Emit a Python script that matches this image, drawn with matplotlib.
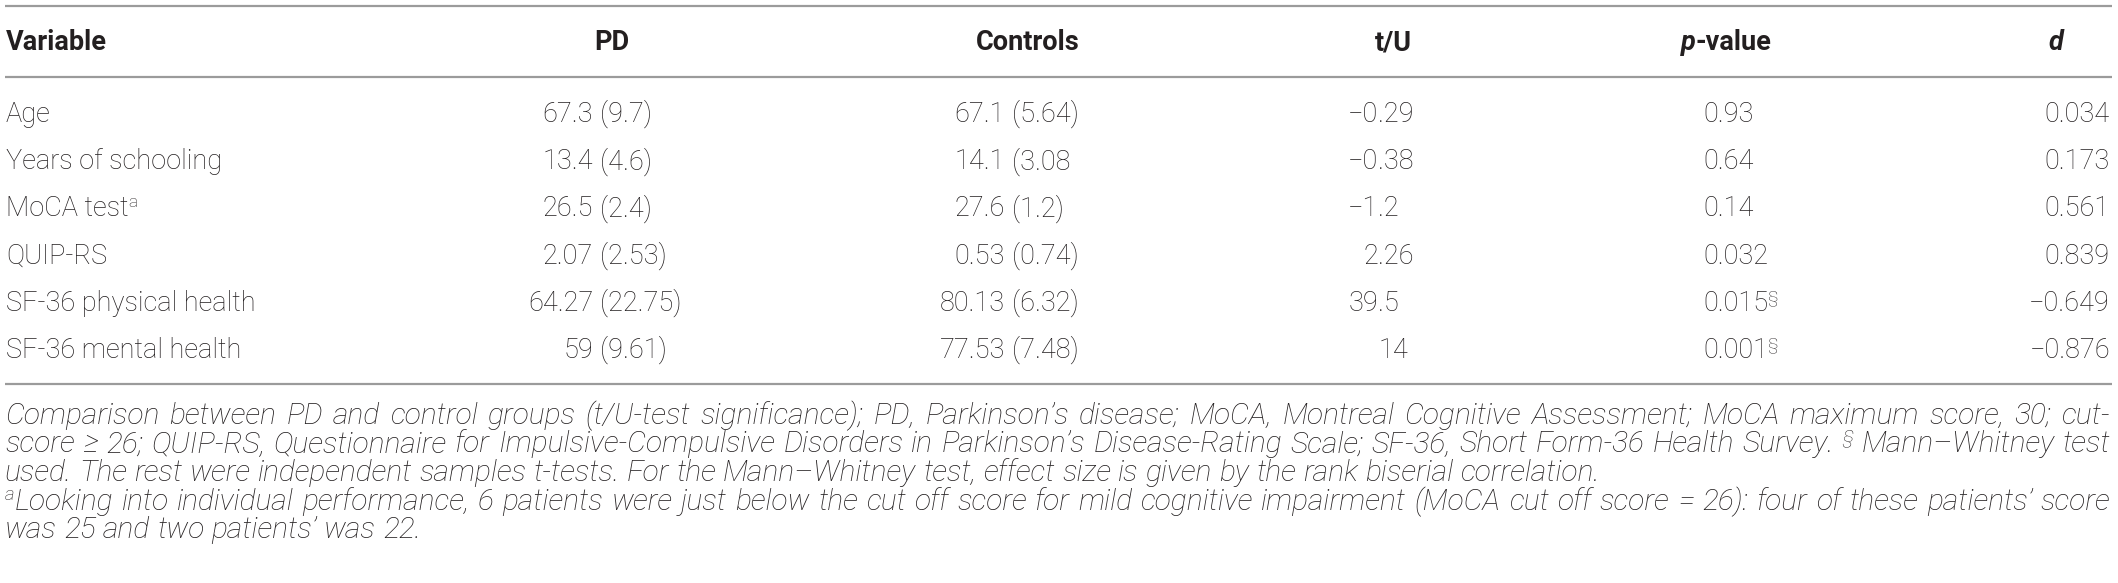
import re
import matplotlib
matplotlib.use("Agg")
import matplotlib.pyplot as plt
from matplotlib.lines import Line2D

# ---------------- data ----------------
headers = ["Variable", "PD", "Controls", "t/U", "p-value", "d"]
variables = ["Age", "Years of schooling", "MoCA test", "QUIP-RS",
             "SF-36 physical health", "SF-36 mental health"]
variable_sup = ["", "", "a", "", "", ""]
pd_values = ["67.3 (9.7)", "13.4 (4.6)", "26.5 (2.4)", "2.07 (2.53)",
             "64.27 (22.75)", "59 (9.61)"]
control_values = ["67.1 (5.64)", "14.1 (3.08", "27.6 (1.2)", "0.53 (0.74)",
                  "80.13 (6.32)", "77.53 (7.48)"]
tu_values = ["\u22120.29", "\u22120.38", "\u22121.2", "2.26", "39.5", "14"]
p_values = ["0.93", "0.64", "0.14", "0.032", "0.015", "0.001"]
p_sup = ["", "", "", "", "\u00a7", "\u00a7"]
d_values = ["0.034", "0.173", "0.561", "0.839", "\u22120.649", "\u22120.876"]

footnote_lines = [
    "Comparison between PD and control groups (t/U-test significance); PD,  Parkinson\u2019s disease; MoCA, Montreal Cognitive Assessment; MoCA maximum score, 30; cut-",
    "score \u2265 26; QUIP-RS, Questionnaire for Impulsive-Compulsive Disorders in Parkinson\u2019s Disease-Rating Scale; SF-36, Short Form-36 Health Survey. ^{\u00a7} Mann\u2013Whitney test",
    "used. The rest were independent samples t-tests. For the Mann\u2013Whitney test, effect size is given by the rank biserial correlation.",
    "^{a}Looking into individual performance, 6 patients were just below the cut off score for mild cognitive impairment (MoCA cut off score = 26): four of these patients\u2019 score",
    "was 25 and two patients\u2019 was 22.",
]
footnote_justify = [True, True, False, True, False]

# ---------------- layout ----------------
W, H = 2118, 583
fig = plt.figure(figsize=(W / 100, H / 100), dpi=100)
fig.patch.set_facecolor("white")
R = fig.canvas.get_renderer()

FAM = ["Roboto", "DejaVu Sans"]
INK = "#231f20"
FS = 19.5
BODY = dict(family=FAM, weight="light", size=FS, color=INK)
BOLD = dict(family=FAM, weight="bold", size=FS, color=INK)
BOLDIT = dict(family=FAM, weight="bold", style="italic", size=FS, color=INK)
SUP = dict(family=FAM, weight="light", size=12.5, color=INK)


def T(x, y, s, ha="left", **st):
    return fig.text(x / W, 1 - y / H, s, ha=ha, va="baseline", **st)


def wid(t):
    return t.get_window_extent(R).width


def runs_draw(x, y, runs, ha="left"):
    objs, total = [], 0.0
    for s, st, dy in runs:
        t = T(0, y + dy, s, **st)
        w = wid(t)
        objs.append((t, w, dy))
        total += w
    start = x if ha == "left" else (x - total if ha == "right" else x - total / 2)
    cx = start
    for t, w, dy in objs:
        t.set_position((cx / W, 1 - (y + dy) / H))
        cx += w
    return total


LINE_KW = dict(color="#9b9b9b", lw=1.6, solid_capstyle="butt")
for yl in (6, 77, 384):
    fig.add_artist(Line2D([5 / W, 2112 / W], [1 - yl / H] * 2, transform=fig.transFigure, **LINE_KW))

# header
hy = 50
col_center = {"PD": 612, "Controls": 1028, "t/U": 1393, "p-value": 1726, "d": 2056}
T(6, hy, headers[0], **BOLD)
T(col_center["PD"], hy, headers[1], ha="center", **BOLD)
T(col_center["Controls"], hy, headers[2], ha="center", **BOLD)
T(col_center["t/U"], hy, headers[3], ha="center", **BOLD)
runs_draw(col_center["p-value"], hy, [("p", BOLDIT, 0), ("-value", BOLD, 0)], ha="center")
T(col_center["d"], hy, headers[5], ha="center", **BOLDIT)

# body rows
row_y0, row_dy = 122, 47.2
PD_PAREN, CTRL_PAREN, TU_DEC, P_LEFT, D_RIGHT = 600, 1012, 1378, 1703, 2110

for i in range(len(variables)):
    y = row_y0 + i * row_dy
    runs = [(variables[i], BODY, 0)]
    if variable_sup[i]:
        runs.append((variable_sup[i], SUP, -9))
    runs_draw(6, y, runs)

    for vals, px in ((pd_values, PD_PAREN), (control_values, CTRL_PAREN)):
        mean, sd = vals[i].split(" (", 1)
        T(px - 7, y, mean, ha="right", **BODY)
        T(px, y, "(" + sd, ha="left", **BODY)

    v = tu_values[i]
    if "." in v:
        a, b = v.split(".", 1)
        T(TU_DEC, y, a, ha="right", **BODY)
        T(TU_DEC, y, "." + b, ha="left", **BODY)
    else:
        T(col_center["t/U"], y, v, ha="center", **BODY)

    runs = [(p_values[i], BODY, 0)]
    if p_sup[i]:
        runs.append((p_sup[i], SUP, -9))
    runs_draw(P_LEFT, y, runs)

    T(D_RIGHT, y, d_values[i], ha="right", **BODY)

# footnotes
def parse_word(word):
    out = []
    pos = 0
    for m in re.finditer(r"\^\{(.*?)\}", word):
        if m.start() > pos:
            out.append((word[pos:m.start()], False))
        out.append((m.group(1), True))
        pos = m.end()
    if pos < len(word):
        out.append((word[pos:], False))
    return out


def foot_styles(fs):
    n = dict(family=FAM, weight="light", style="italic", size=fs, color=INK)
    s = dict(family=FAM, weight="light", style="italic", size=fs * 0.62, color=INK)
    return n, s


def word_width(word, fs):
    n, s = foot_styles(fs)
    tot = 0
    for txt, sup in parse_word(word):
        t = T(0, 0, txt, **(s if sup else n))
        tot += wid(t)
        t.remove()
    return tot


def space_width(fs):
    n, _ = foot_styles(fs)
    a = T(0, 0, "x x", **n); b = T(0, 0, "xx", **n)
    w = wid(a) - wid(b)
    a.remove(); b.remove()
    return w


LEFT, RIGHT = 5, 2110
fs0 = 17.0
sp0 = space_width(fs0)
# size from the unjustified third line, which ends near x = 1600 in the reference
w3 = footnote_lines[2].split()
nat3 = sum(word_width(w, fs0) for w in w3) + (len(w3) - 1) * sp0
fs_a = fs0 * (1600 - LEFT) / nat3
# keep justified lines from getting gaps below ~4 px
fs_b = 99.0
for line, j in zip(footnote_lines, footnote_justify):
    if j:
        ws = line.split()
        wsum = sum(word_width(w, fs0) for w in ws)
        fs_b = min(fs_b, fs0 * (RIGHT - LEFT - 4.5 * (len(ws) - 1)) / wsum)
fs = max(14.0, min(fs_a, fs_b, 22.0))

foot_y = [424, 452.5, 481, 510, 538.5]
nst, sst = foot_styles(fs)
sp = space_width(fs)
for line, just, y in zip(footnote_lines, footnote_justify, foot_y):
    words = line.split()
    widths = [word_width(w, fs) for w in words]
    gap = (RIGHT - LEFT - sum(widths)) / (len(words) - 1) if just else sp
    x = LEFT
    for w, ww in zip(words, widths):
        runs = [(txt, sst if sup else nst, -10 if sup else 0) for txt, sup in parse_word(w)]
        runs_draw(x, y, runs)
        x += ww + gap

fig.savefig("out.png", dpi=100, facecolor="white")
